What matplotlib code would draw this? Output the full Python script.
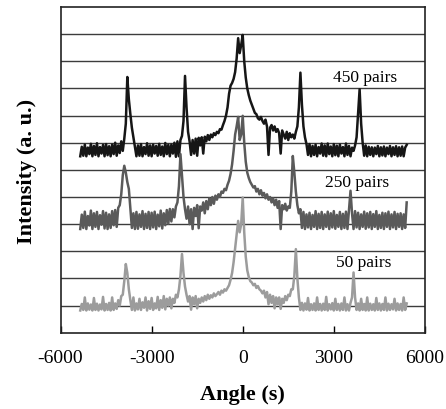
import numpy as np
import matplotlib
matplotlib.use("Agg")
import matplotlib.pyplot as plt

# rocking curves, angle step 50 s from -5350 to 5400 s
angle = np.arange(-5350, 5401, 50)

# 450 pairs (top trace, offset already included)
pairs450 = [
    6.50, 6.85, 6.52, 6.93, 6.50, 6.82, 6.58, 6.96, 6.50, 6.88,
    6.55, 6.98, 6.50, 6.84, 6.60, 6.92, 6.50, 6.95, 6.54, 6.87,
    6.50, 6.93, 6.58, 7.00, 6.52, 6.90, 6.62, 7.05, 6.70, 7.15,
    7.70, 9.42, 8.60, 8.05, 7.55, 7.20, 6.85, 6.50, 6.90, 6.52,
    6.95, 6.50, 6.84, 6.58, 6.98, 6.52, 6.90, 6.50, 6.93, 6.60,
    6.88, 6.52, 6.96, 6.55, 6.86, 6.50, 6.99, 6.58, 6.92, 6.50,
    6.93, 6.60, 7.00, 6.48, 7.05, 6.50, 7.10, 7.25, 7.80, 9.46,
    8.30, 7.40, 7.05, 6.55, 7.10, 6.60, 7.15, 6.52, 7.18, 6.90,
    7.20, 6.60, 7.22, 7.05, 7.28, 7.10, 7.30, 7.20, 7.35, 7.28,
    7.40, 7.35, 7.50, 7.48, 7.65, 7.80, 8.00, 8.30, 8.80, 9.10,
    9.20, 9.35, 9.60, 10.10, 10.85, 10.30, 10.60, 10.97, 10.00, 9.40,
    9.00, 8.75, 8.55, 8.40, 8.25, 8.10, 8.05, 7.90, 7.85, 7.95,
    7.80, 7.70, 7.85, 7.60, 6.55, 7.55, 7.65, 7.45, 7.60, 7.40,
    7.50, 7.35, 6.60, 7.45, 7.30, 7.15, 7.40, 7.10, 7.35, 7.20,
    7.30, 7.15, 7.40, 7.60, 8.30, 9.58, 8.40, 7.60, 7.20, 6.95,
    6.55, 6.95, 6.50, 6.88, 6.55, 6.93, 6.50, 6.84, 6.60, 6.97,
    6.52, 6.90, 6.50, 6.97, 6.58, 6.86, 6.50, 6.95, 6.54, 6.89,
    6.50, 6.93, 6.60, 6.84, 6.50, 6.97, 6.55, 6.88, 6.50, 6.82,
    6.70, 6.90, 7.20, 8.10, 8.97, 7.70, 7.00, 6.52, 6.90, 6.50,
    6.85, 6.55, 6.83, 6.50, 6.82, 6.58, 6.88, 6.50, 6.83, 6.53,
    6.86, 6.50, 6.82, 6.58, 6.88, 6.50, 6.83, 6.55, 6.87, 6.50,
    6.83, 6.52, 6.86, 6.50, 6.82, 6.92,
]

# 250 pairs (middle trace)
pairs250 = [
    3.82, 4.35, 3.86, 4.46, 3.82, 4.30, 3.95, 4.50, 3.82, 4.40,
    3.90, 4.45, 3.82, 4.33, 3.98, 4.48, 3.84, 4.42, 3.82, 4.36,
    3.86, 4.48, 3.96, 4.52, 3.90, 4.60, 4.70, 5.10, 5.80, 6.15,
    5.90, 5.55, 5.30, 4.60, 3.86, 4.40, 3.82, 4.45, 3.83, 4.36,
    3.90, 4.48, 3.82, 4.38, 3.86, 4.45, 3.82, 4.42, 3.88, 4.46,
    3.82, 4.35, 3.92, 4.50, 3.84, 4.40, 3.96, 4.52, 4.02, 4.56,
    4.10, 4.55, 4.25, 4.65, 4.80, 5.40, 6.58, 5.80, 5.00, 4.55,
    4.20, 4.65, 4.00, 4.55, 3.82, 4.60, 4.30, 4.70, 3.85, 4.65,
    4.50, 4.80, 4.40, 4.85, 4.55, 4.95, 4.70, 5.00, 4.75, 5.05,
    4.90, 5.10, 5.00, 5.20, 5.15, 5.30, 5.25, 5.45, 5.60, 5.85,
    6.20, 6.70, 7.30, 7.60, 7.95, 7.10, 7.30, 7.99, 7.00, 6.30,
    5.90, 5.70, 5.55, 5.45, 5.35, 5.40, 5.20, 5.30, 5.10, 5.25,
    5.05, 5.15, 4.95, 5.10, 4.90, 5.00, 4.80, 4.95, 4.70, 4.90,
    4.60, 4.85, 3.82, 4.70, 4.55, 4.75, 4.50, 4.65, 4.60, 5.20,
    6.51, 5.90, 5.20, 4.70, 4.40, 4.55, 3.86, 4.45, 3.82, 4.36,
    3.88, 4.42, 3.82, 4.34, 3.90, 4.48, 3.82, 4.38, 3.86, 4.45,
    3.82, 4.36, 3.90, 4.46, 3.82, 4.40, 3.88, 4.48, 3.83, 4.34,
    3.90, 4.45, 3.82, 4.38, 3.86, 4.46, 3.82, 4.52, 5.23, 4.40,
    3.82, 4.48, 3.88, 4.42, 3.82, 4.36, 3.90, 4.46, 3.83, 4.40,
    3.88, 4.45, 3.82, 4.37, 3.90, 4.48, 3.82, 4.34, 3.86, 4.42,
    3.82, 4.40, 3.90, 4.46, 3.82, 4.36, 3.88, 4.45, 3.82, 4.38,
    3.90, 4.40, 3.82, 4.36, 3.86, 4.80,
]

# 50 pairs (bottom trace)
pairs50 = [
    0.82, 1.06, 0.84, 1.30, 0.82, 1.08, 0.85, 1.04, 0.82, 1.28,
    0.84, 1.07, 0.82, 1.04, 0.86, 1.32, 0.82, 1.06, 0.84, 1.10,
    0.82, 1.30, 0.84, 1.08, 0.88, 1.20, 1.00, 1.35, 1.40, 1.90,
    2.53, 2.20, 1.60, 1.20, 0.84, 1.30, 0.82, 1.08, 0.86, 1.25,
    0.84, 1.12, 0.92, 1.30, 0.82, 1.16, 0.88, 1.28, 0.84, 1.08,
    0.90, 1.32, 0.84, 1.20, 0.92, 1.35, 0.86, 1.25, 1.00, 1.30,
    0.90, 1.25, 1.10, 1.40, 1.30, 1.60, 2.10, 2.90, 2.20, 1.70,
    1.40, 1.15, 1.35, 0.85, 1.30, 1.05, 1.35, 0.90, 1.25, 1.10,
    1.30, 1.15, 1.35, 1.20, 1.40, 1.25, 1.38, 1.30, 1.45, 1.35,
    1.42, 1.50, 1.40, 1.55, 1.48, 1.60, 1.55, 1.65, 1.75, 1.95,
    2.20, 2.60, 3.10, 3.60, 4.12, 3.70, 4.00, 4.98, 3.70, 2.80,
    2.30, 2.05, 1.90, 1.85, 1.75, 1.80, 1.65, 1.72, 1.60, 1.55,
    1.45, 1.55, 1.30, 1.50, 1.05, 1.40, 1.10, 1.35, 0.90, 1.30,
    1.05, 1.30, 0.88, 1.25, 1.10, 1.35, 1.20, 1.40, 1.35, 1.60,
    1.60, 2.10, 3.08, 2.00, 1.30, 0.84, 1.10, 0.82, 1.08, 0.85,
    1.28, 0.82, 1.05, 0.84, 1.08, 0.82, 1.30, 0.84, 1.06, 0.82,
    1.07, 0.84, 1.32, 0.82, 1.05, 0.86, 1.09, 0.82, 1.25, 0.84,
    1.06, 0.82, 1.08, 0.84, 1.30, 0.82, 1.05, 0.82, 1.10, 1.30,
    2.22, 1.30, 0.84, 1.08, 0.82, 1.25, 0.84, 1.06, 0.82, 1.30,
    0.82, 1.07, 0.84, 1.05, 0.82, 1.28, 0.84, 1.08, 0.82, 1.06,
    0.84, 1.30, 0.82, 1.07, 0.84, 1.05, 0.86, 1.25, 0.82, 1.08,
    0.84, 1.06, 0.82, 1.30, 0.84, 1.08,
]

labels = ["450 pairs", "250 pairs", "50 pairs"]
label_pos = [(4025, 9.42), (3760, 5.56), (3970, 2.59)]
colors = ["#161616", "#5a5a5a", "#9c9c9c"]

plt.rcParams['font.family'] = ['Liberation Serif', 'DejaVu Serif']
plt.rcParams['axes.unicode_minus'] = False

fig = plt.figure(figsize=(4.46, 4.10), dpi=100)
ax = fig.add_axes([0.1357, 0.186, 0.817, 0.7946])

for y in range(1, 12):
    ax.axhline(y, color="#3c3c3c", lw=1.0, zorder=1)

for series, col in zip([pairs450, pairs250, pairs50], colors):
    ax.plot(angle, series, color=col, lw=1.8, zorder=2)

for lab, (lx, ly) in zip(labels, label_pos):
    ax.text(lx, ly, lab, fontsize=12.5, ha="center", va="center", zorder=3)

ax.set_xlim(-6000, 6000)
ax.set_ylim(0, 12)
ax.set_xticks([-6000, -3000, 0, 3000, 6000])
ax.set_yticks([])
ax.tick_params(axis="x", direction="in", length=5, width=1, pad=12, labelsize=14)
for sp in ax.spines.values():
    sp.set_linewidth(1.2)
    sp.set_color("#222222")

ax.set_xlabel("Angle (s)", fontsize=16, fontweight="bold")
ax.xaxis.set_label_coords(0.5, -0.157)
fig.text(27.5 / 446, 1 - 171 / 410, "Intensity (a. u.)", fontsize=16,
         fontweight="bold", rotation=90, ha="center", va="center")

fig.savefig("out.png", dpi=100)
